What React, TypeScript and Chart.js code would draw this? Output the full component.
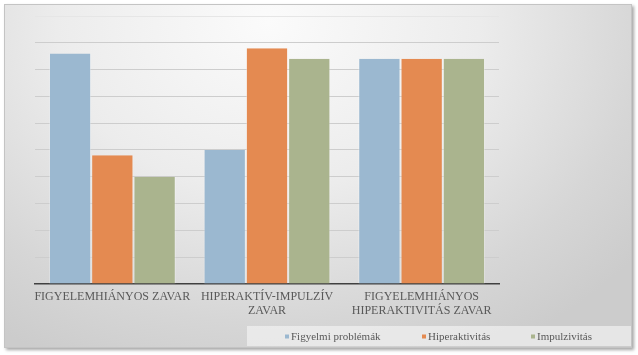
import React, { useEffect, useRef } from "react";
import { Chart, registerables } from "chart.js";

Chart.register(...registerables);

const categories: string[][] = [
  ["FIGYELEMHIÁNYOS ZAVAR"],
  ["HIPERAKTÍV-IMPULZÍV", "ZAVAR"],
  ["FIGYELEMHIÁNYOS", "HIPERAKTIVITÁS ZAVAR"],
];
const seriesNames = ["Figyelmi problémák", "Hiperaktivitás", "Impulzivitás"];
const figyelmi = [86, 50, 84];
const hiperaktivitas = [48, 88, 84];
const impulzivitas = [40, 84, 84];
const colors = ["#9bb8d0", "#e48a51", "#aab48e"];

const customLegend = {
  id: "customLegend",
  afterDraw(chart: any) {
    const ctx = chart.ctx;
    ctx.save();
    ctx.fillStyle = "rgba(246,246,246,0.6)";
    ctx.fillRect(242, 321, chart.width - 242, 20);
    const xs = [280, 417, 526];
    const cy = 332;
    ctx.font = "11px 'Liberation Serif'";
    ctx.textBaseline = "middle";
    ctx.textAlign = "left";
    chart.data.datasets.forEach((d: any, i: number) => {
      ctx.fillStyle = colors[i];
      ctx.fillRect(xs[i], cy - 2.5, 4, 4);
      ctx.fillStyle = "#595959";
      ctx.fillText(d.label, xs[i] + 6, cy);
    });
    ctx.restore();
  },
};

export default function App() {
  const ref = useRef<HTMLCanvasElement | null>(null);
  useEffect(() => {
    if (!ref.current) return;
    const data = [figyelmi, hiperaktivitas, impulzivitas];
    const chart = new Chart(ref.current, {
      type: "bar",
      data: {
        labels: categories,
        datasets: seriesNames.map((n, i) => ({
          label: n,
          data: data[i],
          backgroundColor: colors[i],
          borderColor: "rgba(255,255,255,0.35)",
          borderWidth: { left: 1, right: 1, top: 0, bottom: 0 },
          categoryPercentage: 0.82,
          barPercentage: 1,
        })),
      },
      plugins: [customLegend],
      options: {
        animation: false,
        responsive: false,
        layout: { padding: { left: 30, right: 132, top: 11, bottom: 23 } },
        plugins: {
          tooltip: { enabled: false },
          legend: { display: false },
        },
        scales: {
          x: {
            grid: { display: false, drawTicks: false },
            border: { color: "#404040", width: 1.5 },
            ticks: {
              color: "#595959",
              font: { family: "Liberation Serif", size: 12, lineHeight: 1.17 },
              maxRotation: 0,
              autoSkip: false,
              padding: 6,
            },
          },
          y: {
            min: 0,
            max: 100,
            ticks: { display: false, stepSize: 10 },
            border: { display: false },
            grid: {
              drawTicks: false,
              color: (c: any) =>
                c.tick && c.tick.value === 100
                  ? "#e6e6e6"
                  : c.tick && c.tick.value === 0
                  ? "rgba(0,0,0,0)"
                  : "#cdcdcd",
            },
            afterFit: (s: any) => {
              s.width = 0;
            },
          },
        },
      },
    });
    return () => chart.destroy();
  }, []);
  return (
    <div style={{ position: "fixed", left: 0, top: 0, width: 638, height: 355, background: "#ffffff" }}>
      <div
        style={{
          position: "absolute",
          left: 4,
          top: 4,
          width: 626,
          height: 342,
          border: "1px solid #c4c4c4",
          boxShadow: "2px 2px 3px rgba(0,0,0,0.35)",
          background:
            "radial-gradient(ellipse 75% 110% at 42% 5%, #fbfbfb 0%, #ececec 45%, #d6d6d6 80%, #cccccc 100%)",
        }}
      >
        <canvas ref={ref} width={626} height={342} style={{ display: "block" }} />
      </div>
    </div>
  );
}
